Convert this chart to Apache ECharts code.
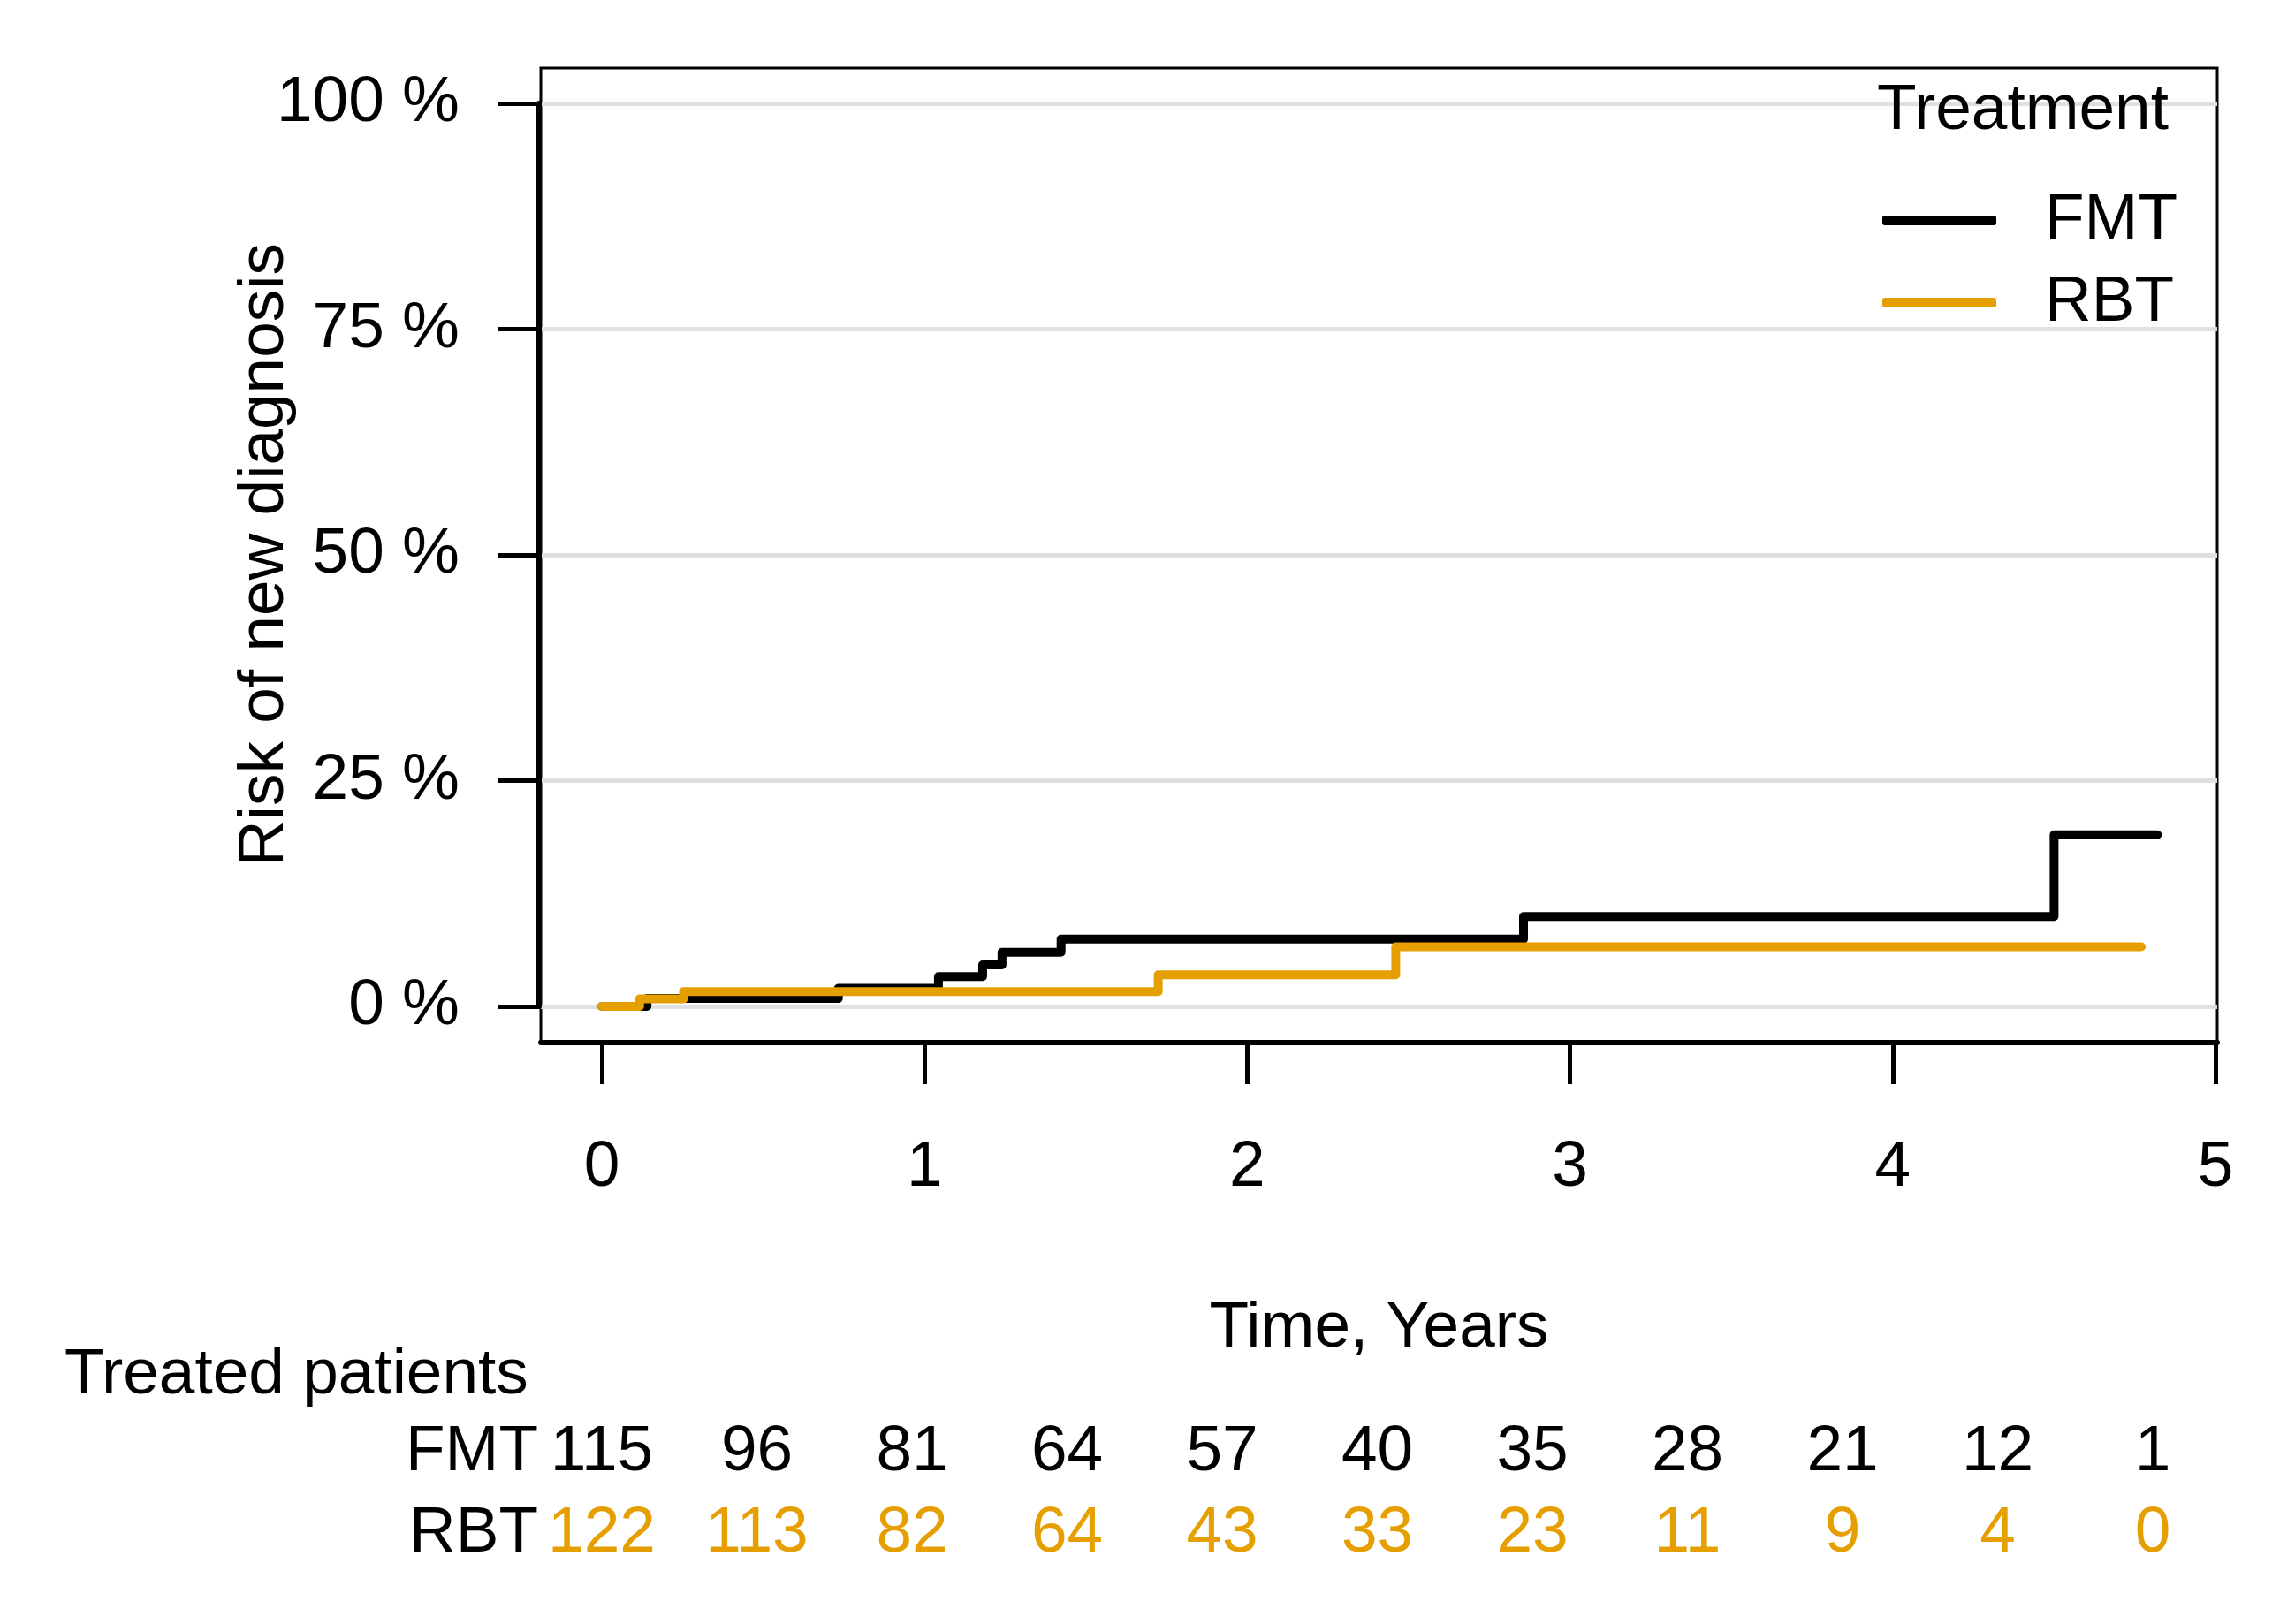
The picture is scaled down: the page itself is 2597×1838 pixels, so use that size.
<!DOCTYPE html>
<html>
<head>
<meta charset="utf-8">
<script src="https://cdn.jsdelivr.net/npm/echarts@6/dist/echarts.min.js"></script>
<style>
html,body{margin:0;padding:0;background:#fff;}
#c{width:2597px;height:1838px;}
</style>
</head>
<body>
<div id="c"></div>
<script>
// ---- data ----
const xTicks = [0, 1, 2, 3, 4, 5];
const fmtTime = [0, 0.14, 0.733, 1.043, 1.18, 1.24, 1.423, 2.856, 4.50, 4.82];
const fmtRisk = [0, 0.87, 2.0, 3.3, 4.6, 6.0, 7.45, 9.95, 19.0, 19.0];
const rbtTime = [0, 0.117, 0.253, 1.724, 2.46, 4.77];
const rbtRisk = [0, 0.82, 1.64, 3.5, 6.6, 6.6];
const riskTimes = [0, 0.5, 1, 1.5, 2, 2.5, 3, 3.5, 4, 4.5, 5];
const fmtAtRisk = [115, 96, 81, 64, 57, 40, 35, 28, 21, 12, 1];
const rbtAtRisk = [122, 113, 82, 64, 43, 33, 23, 11, 9, 4, 0];
const groups = ['FMT', 'RBT'];

const FONT = '"Liberation Sans", Arial, Helvetica, sans-serif';
const FS = 73;
const ORANGE = '#E69F00';

const pairs = (t, v) => t.map((x, i) => [x, v[i]]);

const chart = echarts.init(document.getElementById('c'), null, {renderer: 'canvas'});
chart.setOption({
  backgroundColor: '#fff',
  animation: false,
  textStyle: {fontFamily: FONT},
  title: [
    {text: 'Treatment', left: 2119, top: 84, textStyle: {fontFamily: FONT, fontSize: FS, fontWeight: 'normal', color: '#000'}},
    {text: 'Treated patients', left: 68, top: 1515, textStyle: {fontFamily: FONT, fontSize: FS, fontWeight: 'normal', color: '#000'}}
  ],
  legend: {
    data: groups,
    orient: 'vertical',
    left: 2125, top: 208,
    itemWidth: 129, itemHeight: 11, itemGap: 20,
    icon: 'roundRect',
    textStyle: {fontFamily: FONT, fontSize: FS, color: '#000', padding: [0, 0, 0, 50]}
  },
  grid: [
    {left: 612, top: 77, width: 1897, height: 1103, show: true, borderColor: '#000', borderWidth: 3, backgroundColor: 'transparent'},
    {left: 612, top: 117, width: 1897, height: 1022},
    {left: 681, top: 1644, width: 1755, height: 92}
  ],
  xAxis: [
    {gridIndex: 0, type: 'value', min: 0, max: 1, show: false},
    {gridIndex: 1, type: 'value', min: -0.189, max: 5.0055, offset: 41,
     name: 'Time, Years', nameLocation: 'middle', nameGap: 287, nameMoveOverlap: false,
     nameTextStyle: {fontFamily: FONT, fontSize: FS, color: '#000'},
     axisLine: {show: true, onZero: false, lineStyle: {color: '#000', width: 6}},
     axisTick: {show: true, customValues: xTicks, length: 47, lineStyle: {color: '#000', width: 5}},
     axisLabel: {show: true, customValues: xTicks, margin: 105, fontFamily: FONT, fontSize: FS, color: '#000'},
     splitLine: {show: false}},
    {gridIndex: 2, type: 'value', min: 0, max: 5, show: false}
  ],
  yAxis: [
    {gridIndex: 0, type: 'value', min: 0, max: 1, show: false},
    {gridIndex: 1, type: 'value', min: 0, max: 100, interval: 25, offset: 2,
     name: 'Risk of new diagnosis', nameLocation: 'middle', nameGap: 274, nameMoveOverlap: false,
     nameTextStyle: {fontFamily: FONT, fontSize: FS, color: '#000'},
     axisLine: {show: true, onZero: false, lineStyle: {color: '#000', width: 6}},
     axisTick: {show: true, length: 46, lineStyle: {color: '#000', width: 5}},
     axisLabel: {margin: 90, fontFamily: FONT, fontSize: FS, color: '#000', formatter: '{value} %'},
     splitLine: {show: true, lineStyle: {color: '#e0e0e0', width: 5}}},
    {gridIndex: 2, type: 'category', data: ['RBT', 'FMT'], boundaryGap: false,
     axisLine: {show: false}, axisTick: {show: false}, splitLine: {show: false},
     axisLabel: {interval: 0, hideOverlap: false, margin: 72, fontFamily: FONT, fontSize: FS, color: '#000'}}
  ],
  series: [
    {name: 'FMT', type: 'line', xAxisIndex: 1, yAxisIndex: 1, step: 'end', symbol: 'none',
     data: pairs(fmtTime, fmtRisk), itemStyle: {color: '#000'},
     lineStyle: {color: '#000', width: 10, cap: 'round', join: 'round'}, z: 3},
    {name: 'RBT', type: 'line', xAxisIndex: 1, yAxisIndex: 1, step: 'end', symbol: 'none',
     data: pairs(rbtTime, rbtRisk), itemStyle: {color: ORANGE},
     lineStyle: {color: ORANGE, width: 10, cap: 'round', join: 'round'}, z: 4},
    {name: 'FMT at risk', type: 'scatter', xAxisIndex: 2, yAxisIndex: 2, symbolSize: 1,
     itemStyle: {color: 'rgba(0,0,0,0)'},
     data: riskTimes.map((t, i) => [t, 'FMT', fmtAtRisk[i]]),
     label: {show: true, position: 'inside', formatter: p => String(p.value[2]), fontFamily: FONT, fontSize: FS, color: '#000', textBorderWidth: 0, opacity: 1}},
    {name: 'RBT at risk', type: 'scatter', xAxisIndex: 2, yAxisIndex: 2, symbolSize: 1,
     itemStyle: {color: 'rgba(0,0,0,0)'},
     data: riskTimes.map((t, i) => [t, 'RBT', rbtAtRisk[i]]),
     label: {show: true, position: 'inside', formatter: p => String(p.value[2]), fontFamily: FONT, fontSize: FS, color: ORANGE, textBorderWidth: 0, opacity: 1}}
  ]
});
</script>
</body>
</html>
